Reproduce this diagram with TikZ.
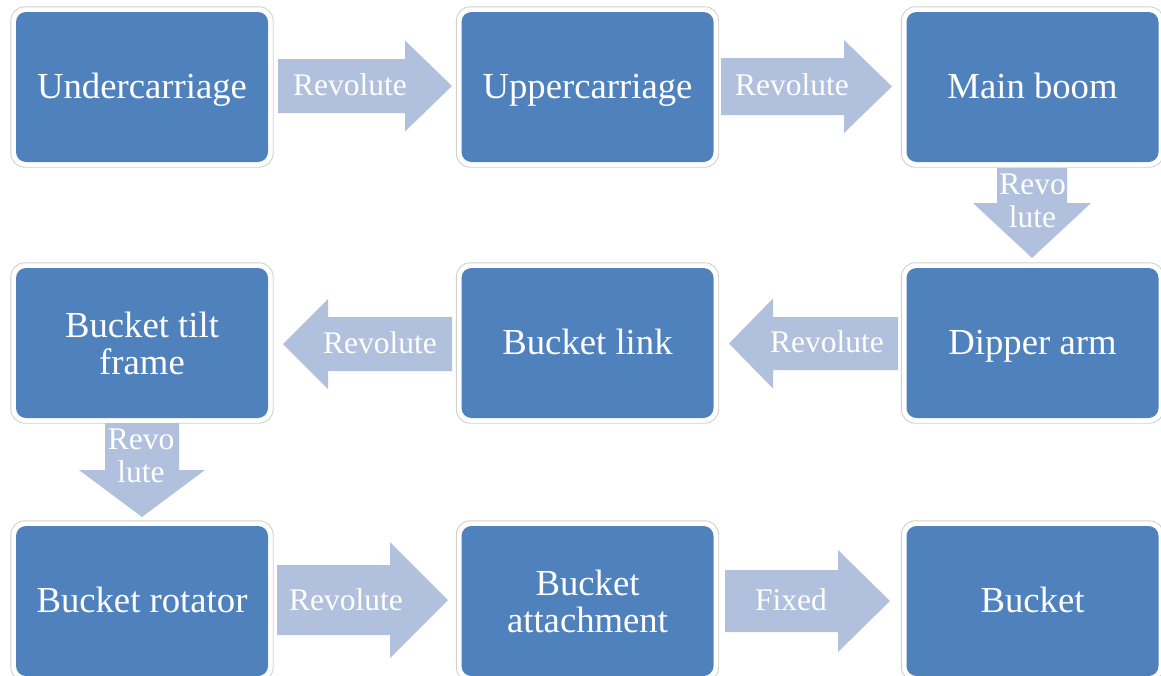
\documentclass[tikz,border=0pt]{standalone}
\usepackage{fontspec}
\setmainfont{Liberation Serif}
\definecolor{partblue}{RGB}{79,129,189}
\definecolor{jointblue}{RGB}{176,192,221}
\definecolor{halogray}{RGB}{208,208,208}
\newcommand\partfont{\fontsize{36.7pt}{37pt}\selectfont}
\newcommand\jointfont{\fontsize{31.5pt}{33pt}\selectfont}
% horizontal block arrow: tail x, head base x, tip x, mid y, shaft half width, head half width
\newcommand\blockarrowh[6]{%
  \fill[jointarrow] (#1,#4-#5) -- (#2,#4-#5) -- (#2,#4-#6) -- (#3,#4)
    -- (#2,#4+#6) -- (#2,#4+#5) -- (#1,#4+#5) -- cycle;}
% vertical block arrow: tail y, head base y, tip y, mid x, shaft half width, head half width
\newcommand\blockarrowv[6]{%
  \fill[jointarrow] (#4-#5,#1) -- (#4-#5,#2) -- (#4-#6,#2) -- (#4,#3)
    -- (#4+#6,#2) -- (#4+#5,#2) -- (#4+#5,#1) -- cycle;}
\tikzset{
  part/.style={rectangle, rounded corners=10pt, fill=partblue, text=white,
    minimum width=252pt, minimum height=150pt, inner sep=0pt,
    font=\partfont, align=center},
  oneline/.style={text height=31.5pt, text depth=9.2pt},
  halo/.style={draw=halogray, line width=0.9pt, rounded corners=14pt},
  jointarrow/.style={fill=jointblue},
  joint/.style={text=white, font=\jointfont, anchor=base, inner sep=0pt, align=center},
}
\begin{document}
\begin{tikzpicture}[x=1pt, y=-1pt]
  \useasboundingbox (0,0) rectangle (1161,675);

  % machine parts
  \node[part, oneline] (under)   at (142,87)    {Undercarriage};
  \node[part, oneline] (upper)   at (587.5,87)  {Uppercarriage};
  \node[part, oneline] (boom)    at (1032.5,87) {Main boom};
  \node[part, oneline] (dipper)  at (1032.5,343) {Dipper arm};
  \node[part, oneline] (link)    at (587.5,343) {Bucket link};
  \node[part]          (tilt)    at (142,343)   {Bucket tilt\\frame};
  \node[part, oneline] (rotator) at (142,601)   {Bucket rotator};
  \node[part]          (attach)  at (587.5,601) {Bucket\\attachment};
  \node[part, oneline] (bucket)  at (1032.5,601) {Bucket};

  % thin outline around each part
  \foreach \n in {under,upper,boom,dipper,link,tilt,rotator,attach,bucket}
    \draw[halo] ([shift={(-5pt,5pt)}]\n.north west) rectangle ([shift={(5pt,-5pt)}]\n.south east);

  % joints between the parts
  \blockarrowh{278}{405}{452}{86}{27}{45.5}
  \blockarrowh{721}{844}{892}{86.5}{28.5}{46.5}
  \blockarrowv{168}{203}{258}{1032}{35}{59}
  \blockarrowh{898}{773}{729}{343.5}{26.5}{45}
  \blockarrowh{452}{328}{283}{344}{27}{45}
  \blockarrowv{423}{470}{517}{142}{37}{63}
  \blockarrowh{277}{390}{448}{600}{35}{58}
  \blockarrowh{725}{838}{890}{601}{31}{51}

  % joint labels (a two-line label is placed by its last baseline)
  \node[joint] (j1) at (350,95.7)   {Revolute};
  \node[joint] (j2) at (792,95.7)   {Revolute};
  \node[joint] (j3) at (1032.5,227) {Revo\\lute};
  \node[joint] (j4) at (827,352.7)  {Revolute};
  \node[joint] (j5) at (380,353)    {Revolute};
  \node[joint] (j6) at (141,482)    {Revo\\lute};
  \node[joint] (j7) at (346,610)    {Revolute};
  \node[joint] (j8) at (791,610.5)  {Fixed};
\end{tikzpicture}
\end{document}
